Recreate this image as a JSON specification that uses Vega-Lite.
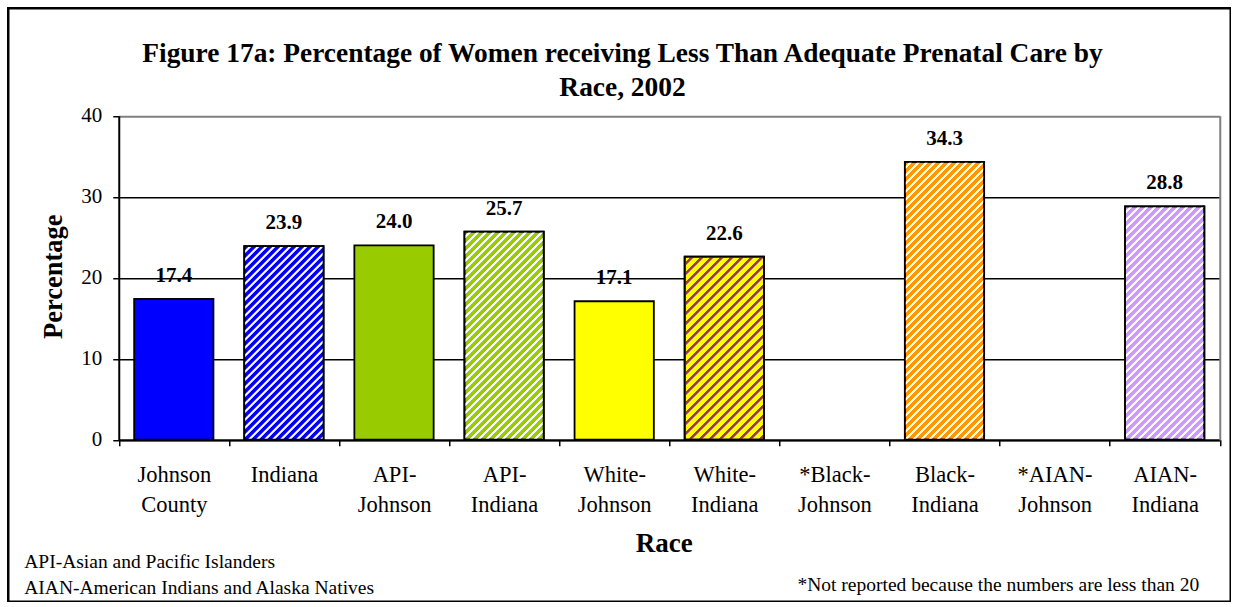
{
  "$schema": "https://vega.github.io/schema/vega-lite/v6.json",
  "width": 1222.5,
  "height": 593.5,
  "padding": {"left": 8.25, "top": 8.25, "right": 0, "bottom": 0},
  "background": "white",
  "title": {
    "text": ["Figure 17a: Percentage of Women receiving Less Than Adequate Prenatal Care by", "Race, 2002"],
    "font": "Liberation Serif",
    "fontSize": 27.4,
    "fontWeight": "bold",
    "color": "black",
    "lineHeight": 34,
    "anchor": "middle",
    "frame": "group",
    "baseline": "top",
    "offset": -93,
    "dx": 3
  },
  "params": [
    {"name": "whiteStripes", "value": [
      {"offset":0.011,"color":"rgba(255,255,255,0)"},{"offset":0.0125,"color":"#ffffff"},{"offset":0.0185,"color":"#ffffff"},{"offset":0.02,"color":"rgba(255,255,255,0)"},
      {"offset":0.031,"color":"rgba(255,255,255,0)"},{"offset":0.0325,"color":"#ffffff"},{"offset":0.0385,"color":"#ffffff"},{"offset":0.04,"color":"rgba(255,255,255,0)"},
      {"offset":0.051,"color":"rgba(255,255,255,0)"},{"offset":0.0525,"color":"#ffffff"},{"offset":0.0585,"color":"#ffffff"},{"offset":0.06,"color":"rgba(255,255,255,0)"},
      {"offset":0.071,"color":"rgba(255,255,255,0)"},{"offset":0.0725,"color":"#ffffff"},{"offset":0.0785,"color":"#ffffff"},{"offset":0.08,"color":"rgba(255,255,255,0)"},
      {"offset":0.091,"color":"rgba(255,255,255,0)"},{"offset":0.0925,"color":"#ffffff"},{"offset":0.0985,"color":"#ffffff"},{"offset":0.1,"color":"rgba(255,255,255,0)"},
      {"offset":0.111,"color":"rgba(255,255,255,0)"},{"offset":0.1125,"color":"#ffffff"},{"offset":0.1185,"color":"#ffffff"},{"offset":0.12,"color":"rgba(255,255,255,0)"},
      {"offset":0.131,"color":"rgba(255,255,255,0)"},{"offset":0.1325,"color":"#ffffff"},{"offset":0.1385,"color":"#ffffff"},{"offset":0.14,"color":"rgba(255,255,255,0)"},
      {"offset":0.151,"color":"rgba(255,255,255,0)"},{"offset":0.1525,"color":"#ffffff"},{"offset":0.1585,"color":"#ffffff"},{"offset":0.16,"color":"rgba(255,255,255,0)"},
      {"offset":0.171,"color":"rgba(255,255,255,0)"},{"offset":0.1725,"color":"#ffffff"},{"offset":0.1785,"color":"#ffffff"},{"offset":0.18,"color":"rgba(255,255,255,0)"},
      {"offset":0.191,"color":"rgba(255,255,255,0)"},{"offset":0.1925,"color":"#ffffff"},{"offset":0.1985,"color":"#ffffff"},{"offset":0.2,"color":"rgba(255,255,255,0)"},
      {"offset":0.211,"color":"rgba(255,255,255,0)"},{"offset":0.2125,"color":"#ffffff"},{"offset":0.2185,"color":"#ffffff"},{"offset":0.22,"color":"rgba(255,255,255,0)"},
      {"offset":0.231,"color":"rgba(255,255,255,0)"},{"offset":0.2325,"color":"#ffffff"},{"offset":0.2385,"color":"#ffffff"},{"offset":0.24,"color":"rgba(255,255,255,0)"},
      {"offset":0.251,"color":"rgba(255,255,255,0)"},{"offset":0.2525,"color":"#ffffff"},{"offset":0.2585,"color":"#ffffff"},{"offset":0.26,"color":"rgba(255,255,255,0)"},
      {"offset":0.271,"color":"rgba(255,255,255,0)"},{"offset":0.2725,"color":"#ffffff"},{"offset":0.2785,"color":"#ffffff"},{"offset":0.28,"color":"rgba(255,255,255,0)"},
      {"offset":0.291,"color":"rgba(255,255,255,0)"},{"offset":0.2925,"color":"#ffffff"},{"offset":0.2985,"color":"#ffffff"},{"offset":0.3,"color":"rgba(255,255,255,0)"},
      {"offset":0.311,"color":"rgba(255,255,255,0)"},{"offset":0.3125,"color":"#ffffff"},{"offset":0.3185,"color":"#ffffff"},{"offset":0.32,"color":"rgba(255,255,255,0)"},
      {"offset":0.331,"color":"rgba(255,255,255,0)"},{"offset":0.3325,"color":"#ffffff"},{"offset":0.3385,"color":"#ffffff"},{"offset":0.34,"color":"rgba(255,255,255,0)"},
      {"offset":0.351,"color":"rgba(255,255,255,0)"},{"offset":0.3525,"color":"#ffffff"},{"offset":0.3585,"color":"#ffffff"},{"offset":0.36,"color":"rgba(255,255,255,0)"},
      {"offset":0.371,"color":"rgba(255,255,255,0)"},{"offset":0.3725,"color":"#ffffff"},{"offset":0.3785,"color":"#ffffff"},{"offset":0.38,"color":"rgba(255,255,255,0)"},
      {"offset":0.391,"color":"rgba(255,255,255,0)"},{"offset":0.3925,"color":"#ffffff"},{"offset":0.3985,"color":"#ffffff"},{"offset":0.4,"color":"rgba(255,255,255,0)"},
      {"offset":0.411,"color":"rgba(255,255,255,0)"},{"offset":0.4125,"color":"#ffffff"},{"offset":0.4185,"color":"#ffffff"},{"offset":0.42,"color":"rgba(255,255,255,0)"},
      {"offset":0.431,"color":"rgba(255,255,255,0)"},{"offset":0.4325,"color":"#ffffff"},{"offset":0.4385,"color":"#ffffff"},{"offset":0.44,"color":"rgba(255,255,255,0)"},
      {"offset":0.451,"color":"rgba(255,255,255,0)"},{"offset":0.4525,"color":"#ffffff"},{"offset":0.4585,"color":"#ffffff"},{"offset":0.46,"color":"rgba(255,255,255,0)"},
      {"offset":0.471,"color":"rgba(255,255,255,0)"},{"offset":0.4725,"color":"#ffffff"},{"offset":0.4785,"color":"#ffffff"},{"offset":0.48,"color":"rgba(255,255,255,0)"},
      {"offset":0.491,"color":"rgba(255,255,255,0)"},{"offset":0.4925,"color":"#ffffff"},{"offset":0.4985,"color":"#ffffff"},{"offset":0.5,"color":"rgba(255,255,255,0)"},
      {"offset":0.511,"color":"rgba(255,255,255,0)"},{"offset":0.5125,"color":"#ffffff"},{"offset":0.5185,"color":"#ffffff"},{"offset":0.52,"color":"rgba(255,255,255,0)"},
      {"offset":0.531,"color":"rgba(255,255,255,0)"},{"offset":0.5325,"color":"#ffffff"},{"offset":0.5385,"color":"#ffffff"},{"offset":0.54,"color":"rgba(255,255,255,0)"},
      {"offset":0.551,"color":"rgba(255,255,255,0)"},{"offset":0.5525,"color":"#ffffff"},{"offset":0.5585,"color":"#ffffff"},{"offset":0.56,"color":"rgba(255,255,255,0)"},
      {"offset":0.571,"color":"rgba(255,255,255,0)"},{"offset":0.5725,"color":"#ffffff"},{"offset":0.5785,"color":"#ffffff"},{"offset":0.58,"color":"rgba(255,255,255,0)"},
      {"offset":0.591,"color":"rgba(255,255,255,0)"},{"offset":0.5925,"color":"#ffffff"},{"offset":0.5985,"color":"#ffffff"},{"offset":0.6,"color":"rgba(255,255,255,0)"},
      {"offset":0.611,"color":"rgba(255,255,255,0)"},{"offset":0.6125,"color":"#ffffff"},{"offset":0.6185,"color":"#ffffff"},{"offset":0.62,"color":"rgba(255,255,255,0)"},
      {"offset":0.631,"color":"rgba(255,255,255,0)"},{"offset":0.6325,"color":"#ffffff"},{"offset":0.6385,"color":"#ffffff"},{"offset":0.64,"color":"rgba(255,255,255,0)"},
      {"offset":0.651,"color":"rgba(255,255,255,0)"},{"offset":0.6525,"color":"#ffffff"},{"offset":0.6585,"color":"#ffffff"},{"offset":0.66,"color":"rgba(255,255,255,0)"},
      {"offset":0.671,"color":"rgba(255,255,255,0)"},{"offset":0.6725,"color":"#ffffff"},{"offset":0.6785,"color":"#ffffff"},{"offset":0.68,"color":"rgba(255,255,255,0)"},
      {"offset":0.691,"color":"rgba(255,255,255,0)"},{"offset":0.6925,"color":"#ffffff"},{"offset":0.6985,"color":"#ffffff"},{"offset":0.7,"color":"rgba(255,255,255,0)"},
      {"offset":0.711,"color":"rgba(255,255,255,0)"},{"offset":0.7125,"color":"#ffffff"},{"offset":0.7185,"color":"#ffffff"},{"offset":0.72,"color":"rgba(255,255,255,0)"},
      {"offset":0.731,"color":"rgba(255,255,255,0)"},{"offset":0.7325,"color":"#ffffff"},{"offset":0.7385,"color":"#ffffff"},{"offset":0.74,"color":"rgba(255,255,255,0)"},
      {"offset":0.751,"color":"rgba(255,255,255,0)"},{"offset":0.7525,"color":"#ffffff"},{"offset":0.7585,"color":"#ffffff"},{"offset":0.76,"color":"rgba(255,255,255,0)"},
      {"offset":0.771,"color":"rgba(255,255,255,0)"},{"offset":0.7725,"color":"#ffffff"},{"offset":0.7785,"color":"#ffffff"},{"offset":0.78,"color":"rgba(255,255,255,0)"},
      {"offset":0.791,"color":"rgba(255,255,255,0)"},{"offset":0.7925,"color":"#ffffff"},{"offset":0.7985,"color":"#ffffff"},{"offset":0.8,"color":"rgba(255,255,255,0)"},
      {"offset":0.811,"color":"rgba(255,255,255,0)"},{"offset":0.8125,"color":"#ffffff"},{"offset":0.8185,"color":"#ffffff"},{"offset":0.82,"color":"rgba(255,255,255,0)"},
      {"offset":0.831,"color":"rgba(255,255,255,0)"},{"offset":0.8325,"color":"#ffffff"},{"offset":0.8385,"color":"#ffffff"},{"offset":0.84,"color":"rgba(255,255,255,0)"},
      {"offset":0.851,"color":"rgba(255,255,255,0)"},{"offset":0.8525,"color":"#ffffff"},{"offset":0.8585,"color":"#ffffff"},{"offset":0.86,"color":"rgba(255,255,255,0)"},
      {"offset":0.871,"color":"rgba(255,255,255,0)"},{"offset":0.8725,"color":"#ffffff"},{"offset":0.8785,"color":"#ffffff"},{"offset":0.88,"color":"rgba(255,255,255,0)"},
      {"offset":0.891,"color":"rgba(255,255,255,0)"},{"offset":0.8925,"color":"#ffffff"},{"offset":0.8985,"color":"#ffffff"},{"offset":0.9,"color":"rgba(255,255,255,0)"},
      {"offset":0.911,"color":"rgba(255,255,255,0)"},{"offset":0.9125,"color":"#ffffff"},{"offset":0.9185,"color":"#ffffff"},{"offset":0.92,"color":"rgba(255,255,255,0)"}
    ]},
    {"name": "purpleStripes", "value": [
      {"offset":0.0145,"color":"rgba(153,51,102,0)"},{"offset":0.016,"color":"#993366"},{"offset":0.0235,"color":"#993366"},{"offset":0.025,"color":"rgba(153,51,102,0)"},
      {"offset":0.0395,"color":"rgba(153,51,102,0)"},{"offset":0.041,"color":"#993366"},{"offset":0.0485,"color":"#993366"},{"offset":0.05,"color":"rgba(153,51,102,0)"},
      {"offset":0.0645,"color":"rgba(153,51,102,0)"},{"offset":0.066,"color":"#993366"},{"offset":0.0735,"color":"#993366"},{"offset":0.075,"color":"rgba(153,51,102,0)"},
      {"offset":0.0895,"color":"rgba(153,51,102,0)"},{"offset":0.091,"color":"#993366"},{"offset":0.0985,"color":"#993366"},{"offset":0.1,"color":"rgba(153,51,102,0)"},
      {"offset":0.1145,"color":"rgba(153,51,102,0)"},{"offset":0.116,"color":"#993366"},{"offset":0.1235,"color":"#993366"},{"offset":0.125,"color":"rgba(153,51,102,0)"},
      {"offset":0.1395,"color":"rgba(153,51,102,0)"},{"offset":0.141,"color":"#993366"},{"offset":0.1485,"color":"#993366"},{"offset":0.15,"color":"rgba(153,51,102,0)"},
      {"offset":0.1645,"color":"rgba(153,51,102,0)"},{"offset":0.166,"color":"#993366"},{"offset":0.1735,"color":"#993366"},{"offset":0.175,"color":"rgba(153,51,102,0)"},
      {"offset":0.1895,"color":"rgba(153,51,102,0)"},{"offset":0.191,"color":"#993366"},{"offset":0.1985,"color":"#993366"},{"offset":0.2,"color":"rgba(153,51,102,0)"},
      {"offset":0.2145,"color":"rgba(153,51,102,0)"},{"offset":0.216,"color":"#993366"},{"offset":0.2235,"color":"#993366"},{"offset":0.225,"color":"rgba(153,51,102,0)"},
      {"offset":0.2395,"color":"rgba(153,51,102,0)"},{"offset":0.241,"color":"#993366"},{"offset":0.2485,"color":"#993366"},{"offset":0.25,"color":"rgba(153,51,102,0)"},
      {"offset":0.2645,"color":"rgba(153,51,102,0)"},{"offset":0.266,"color":"#993366"},{"offset":0.2735,"color":"#993366"},{"offset":0.275,"color":"rgba(153,51,102,0)"},
      {"offset":0.2895,"color":"rgba(153,51,102,0)"},{"offset":0.291,"color":"#993366"},{"offset":0.2985,"color":"#993366"},{"offset":0.3,"color":"rgba(153,51,102,0)"},
      {"offset":0.3145,"color":"rgba(153,51,102,0)"},{"offset":0.316,"color":"#993366"},{"offset":0.3235,"color":"#993366"},{"offset":0.325,"color":"rgba(153,51,102,0)"},
      {"offset":0.3395,"color":"rgba(153,51,102,0)"},{"offset":0.341,"color":"#993366"},{"offset":0.3485,"color":"#993366"},{"offset":0.35,"color":"rgba(153,51,102,0)"},
      {"offset":0.3645,"color":"rgba(153,51,102,0)"},{"offset":0.366,"color":"#993366"},{"offset":0.3735,"color":"#993366"},{"offset":0.375,"color":"rgba(153,51,102,0)"},
      {"offset":0.3895,"color":"rgba(153,51,102,0)"},{"offset":0.391,"color":"#993366"},{"offset":0.3985,"color":"#993366"},{"offset":0.4,"color":"rgba(153,51,102,0)"},
      {"offset":0.4145,"color":"rgba(153,51,102,0)"},{"offset":0.416,"color":"#993366"},{"offset":0.4235,"color":"#993366"},{"offset":0.425,"color":"rgba(153,51,102,0)"},
      {"offset":0.4395,"color":"rgba(153,51,102,0)"},{"offset":0.441,"color":"#993366"},{"offset":0.4485,"color":"#993366"},{"offset":0.45,"color":"rgba(153,51,102,0)"},
      {"offset":0.4645,"color":"rgba(153,51,102,0)"},{"offset":0.466,"color":"#993366"},{"offset":0.4735,"color":"#993366"},{"offset":0.475,"color":"rgba(153,51,102,0)"},
      {"offset":0.4895,"color":"rgba(153,51,102,0)"},{"offset":0.491,"color":"#993366"},{"offset":0.4985,"color":"#993366"},{"offset":0.5,"color":"rgba(153,51,102,0)"},
      {"offset":0.5145,"color":"rgba(153,51,102,0)"},{"offset":0.516,"color":"#993366"},{"offset":0.5235,"color":"#993366"},{"offset":0.525,"color":"rgba(153,51,102,0)"},
      {"offset":0.5395,"color":"rgba(153,51,102,0)"},{"offset":0.541,"color":"#993366"},{"offset":0.5485,"color":"#993366"},{"offset":0.55,"color":"rgba(153,51,102,0)"},
      {"offset":0.5645,"color":"rgba(153,51,102,0)"},{"offset":0.566,"color":"#993366"},{"offset":0.5735,"color":"#993366"},{"offset":0.575,"color":"rgba(153,51,102,0)"},
      {"offset":0.5895,"color":"rgba(153,51,102,0)"},{"offset":0.591,"color":"#993366"},{"offset":0.5985,"color":"#993366"},{"offset":0.6,"color":"rgba(153,51,102,0)"},
      {"offset":0.6145,"color":"rgba(153,51,102,0)"},{"offset":0.616,"color":"#993366"},{"offset":0.6235,"color":"#993366"},{"offset":0.625,"color":"rgba(153,51,102,0)"},
      {"offset":0.6395,"color":"rgba(153,51,102,0)"},{"offset":0.641,"color":"#993366"},{"offset":0.6485,"color":"#993366"},{"offset":0.65,"color":"rgba(153,51,102,0)"},
      {"offset":0.6645,"color":"rgba(153,51,102,0)"},{"offset":0.666,"color":"#993366"},{"offset":0.6735,"color":"#993366"},{"offset":0.675,"color":"rgba(153,51,102,0)"}
    ]}
  ],
  "data": {"values": [
    {"race": "Johnson County", "pct": 17.4},
    {"race": "Indiana", "pct": 23.9},
    {"race": "API-Johnson", "pct": 24.0},
    {"race": "API-Indiana", "pct": 25.7},
    {"race": "White-Johnson", "pct": 17.1},
    {"race": "White-Indiana", "pct": 22.6},
    {"race": "*Black-Johnson", "pct": null},
    {"race": "Black-Indiana", "pct": 34.3},
    {"race": "*AIAN-Johnson", "pct": null},
    {"race": "AIAN-Indiana", "pct": 28.8}
  ]},
  "layer": [
    {
      "mark": {"type": "bar", "width": {"band": 0.72}, "stroke": "black", "strokeWidth": 1.8},
      "encoding": {
        "x": {
          "field": "race", "type": "nominal", "sort": null,
          "scale": {"domain": ["Johnson County", "Indiana", "API-Johnson", "API-Indiana", "White-Johnson", "White-Indiana", "*Black-Johnson", "Black-Indiana", "*AIAN-Johnson", "AIAN-Indiana"], "range": [110.5, 1211.5], "paddingInner": 0, "paddingOuter": 0},
          "axis": {
            "orient": "bottom", "offset": -162,
            "domainColor": "black", "domainWidth": 2,
            "ticks": true, "tickColor": "black", "tickWidth": 1.5, "tickSize": 6, "tickBand": "extent",
            "grid": false,
            "labelAngle": 0, "labelFont": "Liberation Serif", "labelFontSize": 22.5, "labelColor": "black",
            "labelBaseline": "top", "labelPadding": 18, "labelLineHeight": 30, "labelLimit": 300,
            "labelExpr": "split(replace(replace(datum.label, '-', '-|'), ' ', '|'), '|')",
            "title": "Race", "titleFont": "Liberation Serif", "titleFontSize": 27, "titleFontWeight": "bold", "titleColor": "black",
            "titleX": 655.5, "titleY": 112, "titleAlign": "center", "titleBaseline": "alphabetic"
          }
        },
        "y": {
          "field": "pct", "type": "quantitative",
          "scale": {"domain": [0, 40], "range": [431.5, 107.5], "nice": false},
          "axis": {
            "orient": "left", "offset": -110.5, "values": [0, 10, 20, 30, 40],
            "domainColor": "black", "domainWidth": 2,
            "tickColor": "black", "tickWidth": 1.5, "tickSize": 6,
            "labelFont": "Liberation Serif", "labelFontSize": 21, "labelColor": "black", "labelPadding": 11,
            "grid": true,
            "gridColor": {"condition": {"test": "datum.value === 40", "value": "#808080"}, "value": "black"},
            "gridWidth": {"condition": {"test": "datum.value === 40", "value": 2}, "value": 1.5},
            "title": "Percentage", "titleFont": "Liberation Serif", "titleFontSize": 26.5, "titleFontWeight": "bold", "titleColor": "black",
            "titleAngle": 270, "titleX": -57.3, "titleY": 268, "titleAlign": "center", "titleBaseline": "alphabetic"
          }
        },
        "color": {
          "field": "race", "type": "nominal", "legend": null,
          "scale": {
            "domain": ["Johnson County", "Indiana", "API-Johnson", "API-Indiana", "White-Johnson", "White-Indiana", "*Black-Johnson", "Black-Indiana", "*AIAN-Johnson", "AIAN-Indiana"],
            "range": ["#0000ff", "#0000ff", "#99cc00", "#99cc00", "#ffff00", "#ffff00", "#ffffff", "#ff9900", "#ffffff", "#cc99ff"]
          }
        }
      }
    },
    {
      "transform": [{"filter": {"field": "race", "oneOf": ["Indiana", "API-Indiana", "White-Indiana", "Black-Indiana", "AIAN-Indiana"]}}],
      "mark": {
        "type": "bar", "width": {"band": 0.72}, "stroke": "black", "strokeWidth": 1.8,
        "fill": {"expr": "{gradient: 'linear', x1: 0, y1: 0, x2: 400 * 0.72 * bandwidth('x') / (pow(0.72 * bandwidth('x'), 2) + pow(scale('y', 0) - scale('y', datum.pct), 2)), y2: 400 * (scale('y', 0) - scale('y', datum.pct)) / (pow(0.72 * bandwidth('x'), 2) + pow(scale('y', 0) - scale('y', datum.pct), 2)), stops: datum.race === 'White-Indiana' ? purpleStripes : whiteStripes}"}
      },
      "encoding": {
        "x": {"field": "race", "type": "nominal", "sort": null, "axis": null,
          "scale": {"domain": ["Johnson County", "Indiana", "API-Johnson", "API-Indiana", "White-Johnson", "White-Indiana", "*Black-Johnson", "Black-Indiana", "*AIAN-Johnson", "AIAN-Indiana"], "range": [110.5, 1211.5], "paddingInner": 0, "paddingOuter": 0}},
        "y": {"field": "pct", "type": "quantitative", "axis": null,
          "scale": {"domain": [0, 40], "range": [431.5, 107.5], "nice": false}}
      }
    },
    {
      "mark": {"type": "text", "dy": -17, "baseline": "alphabetic", "align": "center", "font": "Liberation Serif", "fontSize": 21, "fontWeight": "bold", "color": "black"},
      "encoding": {
        "x": {
          "field": "race", "type": "nominal", "sort": null,
          "scale": {"domain": ["Johnson County", "Indiana", "API-Johnson", "API-Indiana", "White-Johnson", "White-Indiana", "*Black-Johnson", "Black-Indiana", "*AIAN-Johnson", "AIAN-Indiana"], "range": [110.5, 1211.5], "paddingInner": 0, "paddingOuter": 0},
          "axis": {
            "orient": "top", "offset": 0, "domain": false, "ticks": false, "labels": false, "grid": false,
            "title": ["API-Asian and Pacific Islanders", "AIAN-American Indians and Alaska Natives"],
            "titleFont": "Liberation Serif", "titleFontSize": 19.5, "titleFontWeight": "normal", "titleColor": "black",
            "titleX": 15.5, "titleY": 559.5, "titleAlign": "left", "titleBaseline": "alphabetic", "titleLineHeight": 26
          }
        },
        "y": {
          "field": "pct", "type": "quantitative",
          "scale": {"domain": [0, 40], "range": [431.5, 107.5], "nice": false},
          "axis": {
            "orient": "right", "offset": -11, "domainColor": "#808080", "domainWidth": 2,
            "ticks": false, "labels": false, "grid": false,
            "title": "*Not reported because the numbers are less than 20",
            "titleFont": "Liberation Serif", "titleFontSize": 19.5, "titleFontWeight": "normal", "titleColor": "black",
            "titleAngle": 0, "titleX": -21, "titleY": 582.5, "titleAlign": "right", "titleBaseline": "alphabetic"
          }
        },
        "text": {"field": "pct", "type": "quantitative", "format": ".1f"}
      }
    }
  ],
  "resolve": {"axis": {"x": "independent", "y": "independent"}},
  "config": {
    "view": {"stroke": "black", "strokeWidth": 2.5},
    "font": "Liberation Serif"
  }
}
